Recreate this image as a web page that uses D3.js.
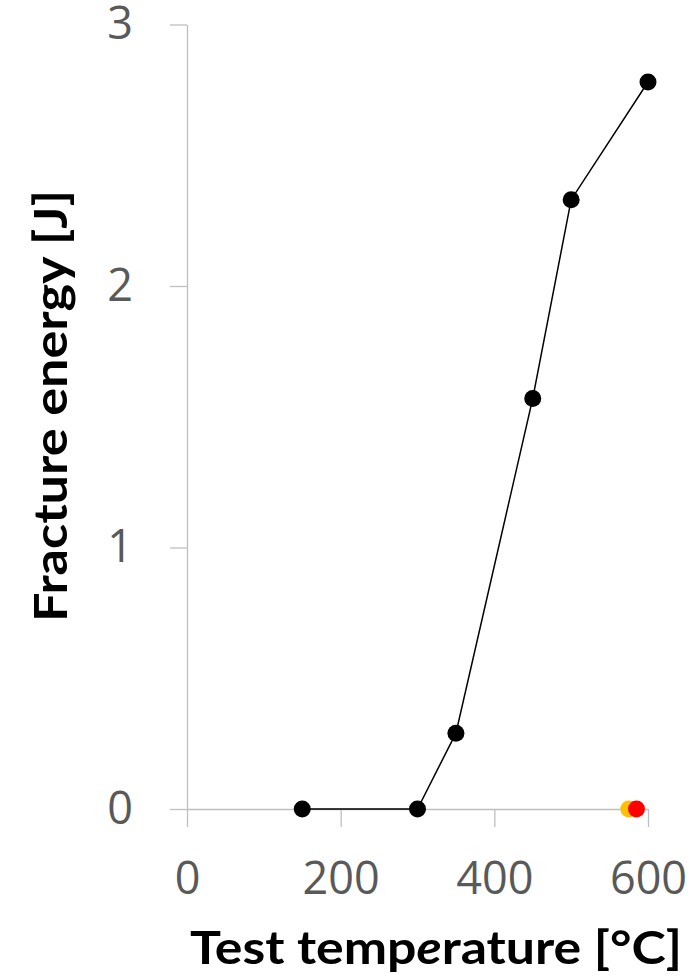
<!DOCTYPE html>
<html>
<head>
<meta charset="utf-8">
<script src="https://cdn.jsdelivr.net/npm/d3@7/dist/d3.min.js"></script>
<style>
  html, body { margin: 0; padding: 0; background: #fff; }
  svg { display: block; }
</style>
</head>
<body>
<svg id="chart" width="697" height="980"></svg>
<script>
// Test temperature [°C] and measured fracture energy [J]
const temperatures = [150, 300, 350, 450, 500, 600];
const fractureEnergy = [0, 0, 0.29, 1.57, 2.33, 2.78];

// Two additional single specimens, both with zero fracture energy
const extraPoints = [
  { temp: 575, energy: 0, color: "#ffc000" },
  { temp: 585, energy: 0, color: "#ff0000" }
];

const xTicks = [0, 200, 400, 600];
const yTicks = [0, 1, 2, 3];

const svg = d3.select("#chart");
const plotLeft = 187, plotRight = 648, plotTop = 24.5, plotBottom = 809;

const x = d3.scaleLinear().domain([0, 600]).range([plotLeft, plotRight]);
const y = d3.scaleLinear().domain([0, 3]).range([plotBottom, plotTop]);

const axisColor = "#bfbfbf";
const labelColor = "#595959";
const tickFont = "'Open Sans', sans-serif";

// Y axis
const gy = svg.append("g")
  .attr("transform", `translate(${plotLeft},0)`)
  .call(d3.axisLeft(y).tickValues(yTicks).tickFormat(d3.format("d"))
    .tickSize(17).tickSizeOuter(0).tickPadding(37));

// X axis
const gx = svg.append("g")
  .attr("transform", `translate(0,${plotBottom})`)
  .call(d3.axisBottom(x).tickValues(xTicks).tickFormat(d3.format("d"))
    .tickSize(18).tickSizeOuter(0).tickPadding(35));

[gx, gy].forEach(g => {
  g.select(".domain").attr("stroke", axisColor).attr("stroke-width", 1.3);
  g.selectAll(".tick line").attr("stroke", axisColor).attr("stroke-width", 1.3);
  g.selectAll(".tick text")
    .attr("fill", labelColor)
    .style("font-family", tickFont)
    .style("font-size", "45px");
});

// Data line
const line = d3.line()
  .x(i => x(temperatures[i]))
  .y(i => y(fractureEnergy[i]));

svg.append("path")
  .datum(d3.range(temperatures.length))
  .attr("d", line)
  .attr("fill", "none")
  .attr("stroke", "#000")
  .attr("stroke-width", 1.5);

// Data markers
svg.append("g").selectAll("circle")
  .data(d3.range(temperatures.length))
  .join("circle")
  .attr("cx", i => x(temperatures[i]))
  .attr("cy", i => y(fractureEnergy[i]))
  .attr("r", 8.5)
  .attr("fill", "#000");

svg.append("g").selectAll("circle")
  .data(extraPoints)
  .join("circle")
  .attr("cx", d => x(d.temp))
  .attr("cy", d => y(d.energy))
  .attr("r", 8.5)
  .attr("fill", d => d.color);

// Axis titles
const titleFont = "Lato, 'Open Sans', sans-serif";

const xt = svg.append("text")
  .attr("x", 436)
  .attr("y", 964)
  .attr("text-anchor", "middle")
  .attr("fill", "#000")
  .style("font-family", titleFont)
  .style("font-weight", "bold")
  .style("font-size", "45px")
  .attr("textLength", 492)
  .attr("lengthAdjust", "spacingAndGlyphs");
xt.append("tspan").text("Test temp");
xt.append("tspan").style("font-style", "italic").text("e");
xt.append("tspan").text("rature [°C]");

svg.append("text")
  .attr("transform", "translate(67,406) rotate(-90)")
  .attr("text-anchor", "middle")
  .attr("fill", "#000")
  .style("font-family", titleFont)
  .style("font-weight", "bold")
  .style("font-size", "45px")
  .attr("textLength", 432)
  .attr("lengthAdjust", "spacingAndGlyphs")
  .text("Fracture energy [J]");
</script>
</body>
</html>
